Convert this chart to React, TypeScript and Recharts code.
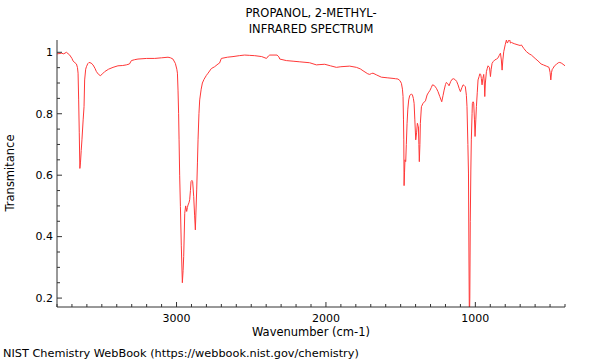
import React from "react";
import { LineChart, Line, XAxis, YAxis } from "recharts";

const wavenumbers: number[] = [
  3800, 3780, 3771, 3755, 3737, 3715, 3700, 3693, 3680, 3670, 3663, 3659, 3655, 3651, 3647, 3643, 3638, 3633, 3625, 3619,
  3615, 3608, 3603, 3594, 3586, 3572, 3559, 3546, 3536, 3522, 3510, 3495, 3481, 3455, 3425, 3392, 3360, 3336, 3315, 3302,
  3280, 3258, 3200, 3146, 3100, 3057, 3040, 3024, 3008, 2998, 2994, 2990, 2986, 2983, 2979, 2974, 2968, 2961, 2956, 2952,
  2945, 2939, 2935, 2932, 2927, 2923, 2917, 2912, 2907, 2903, 2897, 2892, 2885, 2879, 2874, 2870, 2865, 2860, 2856, 2850,
  2845, 2835, 2827, 2816, 2800, 2789, 2767, 2745, 2722, 2712, 2700, 2660, 2622, 2580, 2544, 2510, 2477, 2430, 2398, 2385,
  2376, 2327, 2315, 2309, 2265, 2220, 2175, 2109, 2064, 2040, 2008, 1970, 1930, 1900, 1841, 1796, 1770, 1752, 1720, 1707,
  1695, 1685, 1660, 1629, 1590, 1551, 1535, 1518, 1505, 1495, 1488, 1484, 1481, 1479, 1477, 1474, 1471, 1468, 1466, 1462,
  1457, 1452, 1446, 1440, 1433, 1427, 1421, 1415, 1410, 1405, 1399, 1393, 1388, 1384, 1381, 1378, 1375, 1371, 1368, 1361,
  1350, 1334, 1323, 1315, 1305, 1295, 1287, 1275, 1261, 1250, 1238, 1225, 1216, 1209, 1200, 1194, 1185, 1176, 1165, 1156,
  1145, 1133, 1125, 1116, 1108, 1100, 1090, 1082, 1075, 1067, 1060, 1056, 1050, 1046, 1043, 1040, 1037, 1034, 1030, 1027,
  1022, 1020, 1015, 1011, 1006, 1002, 997, 993, 987, 982, 975, 970, 964, 960, 955, 950, 944, 940, 937, 933,
  926, 920, 915, 905, 899, 894, 888, 880, 870, 858, 848, 840, 832, 826, 821, 816, 810, 800, 792, 786,
  781, 775, 770, 765, 759, 740, 714, 700, 692, 675, 658, 640, 625, 600, 581, 560, 545, 525, 507, 500,
  495, 490, 485, 480, 470, 457, 445, 435, 425, 413, 400,
];

const transmittance: number[] = [
  0.995, 0.996, 0.997, 0.995, 1.0, 0.991, 0.98, 0.972, 0.966, 0.962, 0.95, 0.932, 0.845, 0.74, 0.622, 0.64, 0.68, 0.715, 0.78, 0.823,
  0.91, 0.945, 0.953, 0.963, 0.967, 0.965, 0.959, 0.948, 0.937, 0.928, 0.924, 0.93, 0.937, 0.945, 0.951, 0.956, 0.957, 0.959, 0.962, 0.973,
  0.976, 0.978, 0.98, 0.98, 0.982, 0.984, 0.982, 0.978, 0.964, 0.945, 0.932, 0.877, 0.8, 0.715, 0.6, 0.498, 0.37, 0.25, 0.29, 0.335,
  0.476, 0.5, 0.49, 0.482, 0.495, 0.503, 0.51, 0.52, 0.55, 0.579, 0.583, 0.579, 0.53, 0.47, 0.422, 0.48, 0.552, 0.64, 0.715, 0.8,
  0.845, 0.88, 0.9, 0.912, 0.925, 0.932, 0.947, 0.953, 0.962, 0.965, 0.98, 0.984, 0.986, 0.989, 0.991, 0.99, 0.989, 0.986, 0.98, 0.988,
  0.991, 0.991, 0.985, 0.978, 0.973, 0.971, 0.969, 0.966, 0.959, 0.96, 0.961, 0.956, 0.951, 0.953, 0.955, 0.951, 0.946, 0.94, 0.93, 0.928,
  0.931, 0.932, 0.926, 0.919, 0.917, 0.915, 0.914, 0.913, 0.908, 0.899, 0.88, 0.856, 0.78, 0.715, 0.566, 0.61, 0.65, 0.645, 0.644, 0.7,
  0.769, 0.815, 0.845, 0.858, 0.863, 0.864, 0.861, 0.85, 0.834, 0.78, 0.715, 0.74, 0.769, 0.762, 0.758, 0.7, 0.644, 0.7, 0.769, 0.823,
  0.834, 0.842, 0.861, 0.868, 0.875, 0.885, 0.894, 0.892, 0.883, 0.872, 0.856, 0.839, 0.86, 0.877, 0.895, 0.902, 0.898, 0.891, 0.905, 0.912,
  0.914, 0.91, 0.905, 0.894, 0.882, 0.872, 0.885, 0.894, 0.892, 0.888, 0.86, 0.823, 0.7, 0.607, 0.35, 0.12, 0.2, 0.45, 0.62, 0.715,
  0.8, 0.834, 0.839, 0.835, 0.78, 0.726, 0.78, 0.823, 0.87, 0.91, 0.921, 0.93, 0.928, 0.915, 0.894, 0.915, 0.928, 0.9, 0.856, 0.9,
  0.937, 0.948, 0.956, 0.95, 0.921, 0.945, 0.964, 0.97, 0.975, 0.978, 0.982, 0.99, 0.997, 0.975, 0.942, 0.975, 1.002, 1.025, 1.04, 1.03,
  1.034, 1.04, 1.04, 1.03, 1.032, 1.028, 1.024, 1.022, 1.024, 1.012, 1.002, 0.995, 0.991, 0.98, 0.972, 0.962, 0.959, 0.955, 0.951, 0.935,
  0.91, 0.935, 0.945, 0.948, 0.956, 0.961, 0.966, 0.967, 0.965, 0.961, 0.956,
];

const xTicks: number[] = [
  400, 500, 600, 700, 800, 900, 1000, 1100, 1200, 1300, 1400, 1500, 1600, 1700, 1800, 1900, 2000, 2100,
  2200, 2300, 2400, 2500, 2600, 2700, 2800, 2900, 3000, 3100, 3200, 3300, 3400, 3500, 3600, 3700, 3800,
];
const xLabeled: number[] = [1000, 2000, 3000];
const yTicks: number[] = [0.2, 0.25, 0.3, 0.35, 0.4, 0.45, 0.5, 0.55, 0.6, 0.65, 0.7, 0.75, 0.8, 0.85, 0.9, 0.95, 1.0];
const yLabeled: number[] = [0.2, 0.4, 0.6, 0.8, 1.0];

const titleLines: string[] = ["PROPANOL, 2-METHYL-", "INFRARED SPECTRUM"];
const xLabel = "Wavenumber (cm-1)";
const yLabel = "Transmitance";
const footer = "NIST Chemistry WebBook (https://webbook.nist.gov/chemistry)";

const data = wavenumbers.map((wn, i) => ({ wn, t: transmittance[i] }));

const FONT = "'DejaVu Sans', sans-serif";
const W = 600;
const H = 360;
const LEFT = 57;
const RIGHT = 35;
const TOP = 40;
const BOTTOM = 53;

const XTick = (props: any) => {
  const { x, y, payload } = props;
  const v = payload.value;
  const major = xLabeled.includes(v);
  return (
    <g>
      <line x1={x} y1={y} x2={x} y2={y - (major ? 5 : 3)} stroke="#333" strokeWidth={1} />
      {major && (
        <text x={x} y={y + 15} textAnchor="middle" fontSize={11} fontFamily={FONT} fill="#000">
          {v}
        </text>
      )}
    </g>
  );
};

const YTick = (props: any) => {
  const { x, y, payload } = props;
  const v = payload.value;
  const major = yLabeled.some((m) => Math.abs(m - v) < 1e-6);
  return (
    <g>
      <line x1={x} y1={y} x2={x + (major ? 5 : 3)} y2={y} stroke="#333" strokeWidth={1} />
      {major && (
        <text x={x - 4} y={y} dy="0.35em" textAnchor="end" fontSize={11} fontFamily={FONT} fill="#000">
          {Math.abs(v - 1) < 1e-6 ? "1" : String(v)}
        </text>
      )}
    </g>
  );
};

export default function App() {
  const plotCx = LEFT + (W - LEFT - RIGHT) / 2;
  return (
    <div style={{ position: "absolute", left: 0, top: 0, width: W, height: H, background: "#fff" }}>
      <LineChart width={W} height={H} data={data} margin={{ top: TOP, right: RIGHT, bottom: 0, left: 0 }}>
        <XAxis
          dataKey="wn"
          type="number"
          domain={[400, 3800]}
          reversed
          ticks={xTicks}
          interval={0}
          tick={<XTick />}
          tickSize={0}
          tickMargin={0}
          tickLine={false}
          height={BOTTOM}
          axisLine={{ stroke: "#333", strokeWidth: 1 }}
          allowDataOverflow
        />
        <XAxis
          xAxisId="top"
          orientation="top"
          dataKey="wn"
          type="number"
          domain={[400, 3800]}
          reversed
          tick={false}
          tickLine={false}
          height={0}
          axisLine={{ stroke: "#999", strokeWidth: 1.5 }}
        />
        <YAxis
          type="number"
          domain={[0.171, 1.04]}
          ticks={yTicks}
          interval={0}
          tick={<YTick />}
          tickSize={0}
          tickMargin={0}
          tickLine={false}
          width={LEFT}
          axisLine={{ stroke: "#333", strokeWidth: 1 }}
          allowDataOverflow
        />
        <YAxis
          yAxisId="right"
          orientation="right"
          type="number"
          domain={[0.171, 1.04]}
          tick={false}
          tickLine={false}
          width={0}
          axisLine={{ stroke: "#666", strokeWidth: 1 }}
        />
        <Line
          type="linear"
          dataKey="t"
          stroke="#ff3838"
          strokeWidth={1}
          dot={false}
          activeDot={false}
          isAnimationActive={false}
        />
      </LineChart>
      <svg
        width={W}
        height={H}
        style={{ position: "absolute", left: 0, top: 0, pointerEvents: "none" }}
      >
        <text x={plotCx} y={17} textAnchor="middle" fontSize={11.5} fontFamily={FONT} fill="#000">
          {titleLines[0]}
        </text>
        <text x={plotCx} y={33} textAnchor="middle" fontSize={11.5} fontFamily={FONT} fill="#000">
          {titleLines[1]}
        </text>
        <text x={plotCx} y={336} textAnchor="middle" fontSize={11.5} fontFamily={FONT} fill="#000">
          {xLabel}
        </text>
        <text
          x={14}
          y={173}
          textAnchor="middle"
          fontSize={11.5}
          fontFamily={FONT}
          fill="#000"
          transform="rotate(-90 14 173)"
        >
          {yLabel}
        </text>
        <text x={3} y={357} textAnchor="start" fontSize={11.3} fontFamily={FONT} fill="#000">
          {footer}
        </text>
      </svg>
    </div>
  );
}
